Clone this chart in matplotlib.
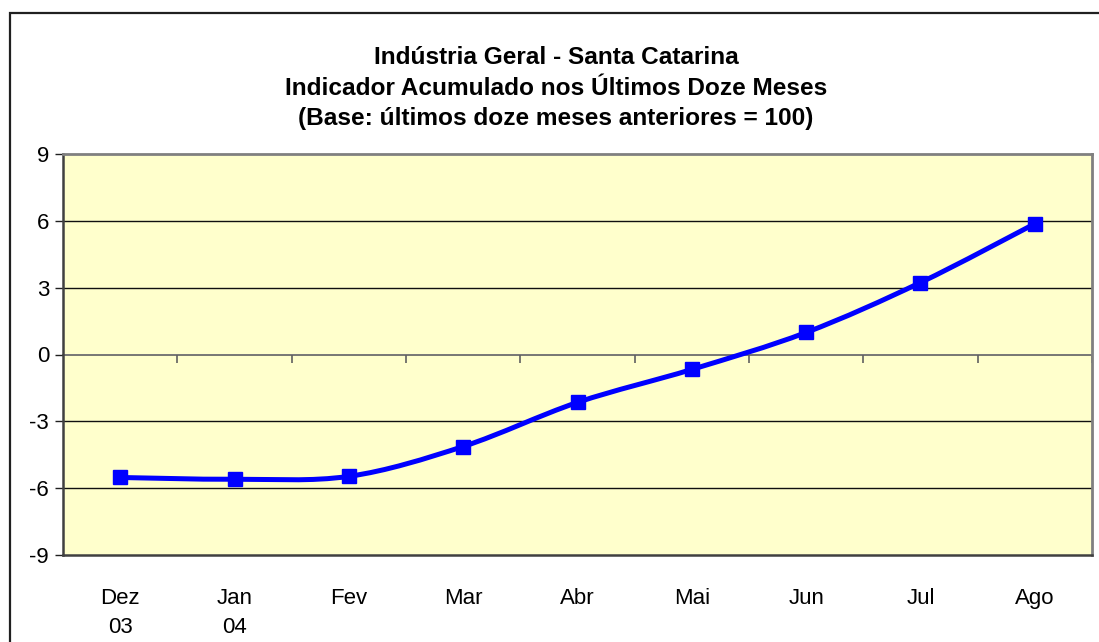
import numpy as np
import matplotlib
matplotlib.use("Agg")
import matplotlib.pyplot as plt
from matplotlib.path import Path
from matplotlib.patches import PathPatch, Rectangle

plt.rcParams['font.family'] = ['Liberation Sans', 'DejaVu Sans']

months = ['Dez\n03', 'Jan\n04', 'Fev', 'Mar', 'Abr', 'Mai', 'Jun', 'Jul', 'Ago']
values = [-5.52, -5.6, -5.47, -4.13, -2.15, -0.67, 0.99, 3.23, 5.87]
yticks = [-9, -6, -3, 0, 3, 6, 9]
title = ("Indústria Geral - Santa Catarina\n"
         "Indicador Acumulado nos Últimos Doze Meses\n"
         "(Base: últimos doze meses anteriores = 100)")

x = np.arange(len(values))
y = np.array(values)

fig = plt.figure(figsize=(10.99, 6.42), dpi=100)
ax = fig.add_axes([63/1099, 87/642, 1029/1099, 401/642])
ax.set_facecolor('#FFFFCC')

# gridlines
for v in yticks[1:-1]:
    if v != 0:
        ax.axhline(v, color='#101010', lw=1, zorder=1)

# smoothed line (Excel style bezier through the points)
pts = np.column_stack([x, y])
verts = [pts[0]]
codes = [Path.MOVETO]
n = len(pts)
for i in range(n - 1):
    p0 = pts[max(i - 1, 0)]
    p1 = pts[i]
    p2 = pts[i + 1]
    p3 = pts[min(i + 2, n - 1)]
    c1 = p1 + (p2 - p0) / 6
    c2 = p2 - (p3 - p1) / 6
    verts += [c1, c2, p2]
    codes += [Path.CURVE4] * 3
ax.add_patch(PathPatch(Path(verts, codes), fill=False, edgecolor='#0000FF',
                       lw=3.6, zorder=3, capstyle='round', joinstyle='round'))
ax.plot(x, y, ls='none', marker='s', ms=10.5, color='#0000FF', zorder=4)

ax.set_xlim(-0.5, len(values) - 0.5)
ax.set_ylim(-9, 9)
ax.set_yticks(yticks)
ax.set_yticklabels([str(t) for t in yticks])
ax.set_xticks(x)
ax.set_xticklabels(months, linespacing=1.5)
ax.tick_params(axis='x', length=0, pad=24, labelsize=16)
ax.tick_params(axis='y', length=6, width=1, direction='out', pad=4,
               labelsize=16, color='#202020')

for s in ['left', 'bottom']:
    ax.spines[s].set_color('#404040')
    ax.spines[s].set_linewidth(1.8)
for s in ['top', 'right']:
    ax.spines[s].set_color('#808080')
    ax.spines[s].set_linewidth(2)

# category axis crossing at zero with ticks between categories
sec = ax.secondary_xaxis(0, transform=ax.transData)
sec.set_xticks(np.arange(0.5, len(values), 1))
sec.set_xticklabels([])
sec.tick_params(length=6, width=1.2, direction='out', color='#606060')
sec.spines['bottom'].set_color('#606060')
sec.spines['bottom'].set_linewidth(1.2)

fig.text(0.506, 1 - 46/642, title, ha='center', va='top', fontsize=17.6,
         fontweight='bold', linespacing=1.42)

fig.add_artist(Rectangle((10/1099, -0.1), 1.2, (642 - 13)/642 + 0.1,
                         transform=fig.transFigure, fill=False,
                         edgecolor='#202020', lw=1.6))

fig.savefig('out.png', dpi=100)
